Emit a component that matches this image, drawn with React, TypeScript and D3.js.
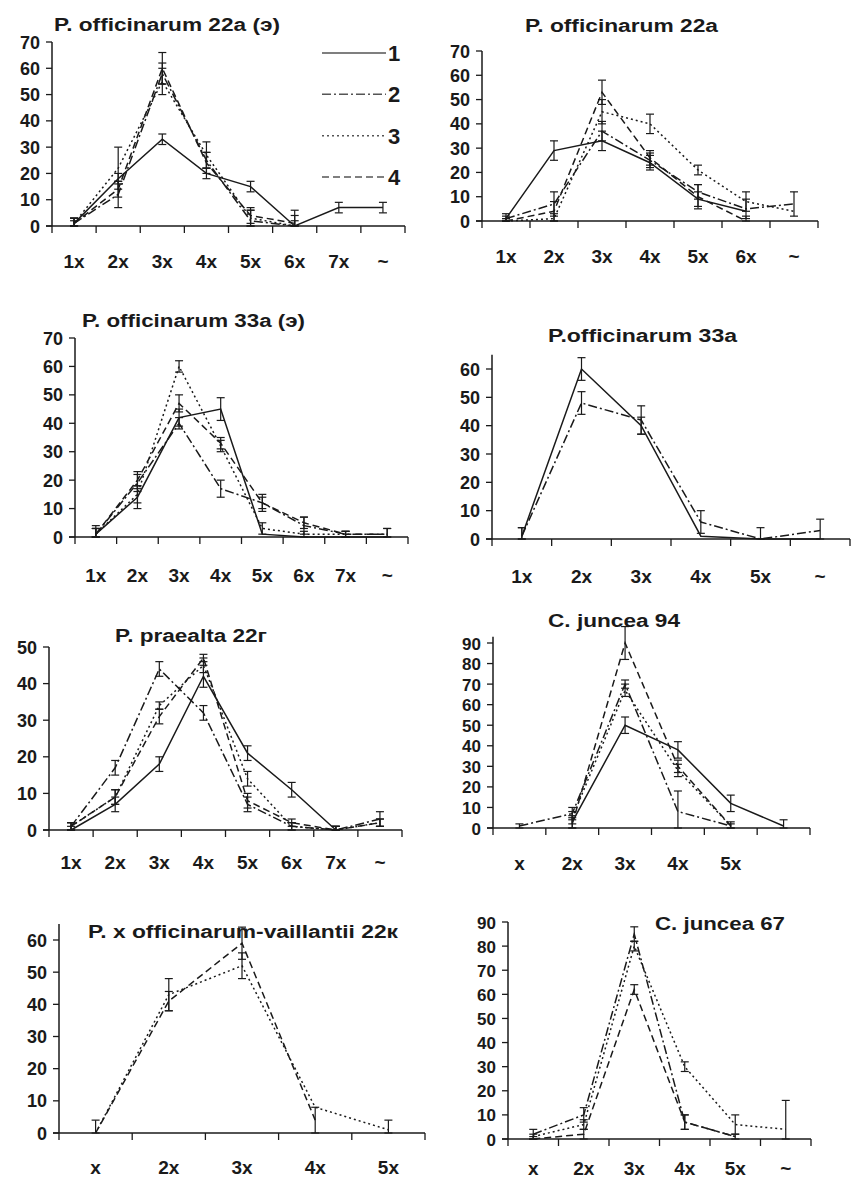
import React from "react";
import * as d3 from "d3";

// category labels of each panel
const cats8 = ["1x", "2x", "3x", "4x", "5x", "6x", "7x", "~"];
const cats7 = ["1x", "2x", "3x", "4x", "5x", "6x", "~"];
const cats33a = ["1x", "2x", "3x", "4x", "5x", "~"];
const catsJ94 = ["x", "2x", "3x", "4x", "5x", ""];
const catsHyb = ["x", "2x", "3x", "4x", "5x"];
const catsJ67 = ["x", "2x", "3x", "4x", "5x", "~"];

const titles = [
  "P. officinarum 22a (э)",
  "P. officinarum 22a",
  "P. officinarum 33a (э)",
  "P.officinarum 33a",
  "P. praealta 22г",
  "C. juncea 94",
  "P. x officinarum-vaillantii 22к",
  "C. juncea 67",
];

const legendLabels = ["1", "2", "3", "4"];

type V = number | null;

// P. officinarum 22a (э)
const p1s1: V[] = [1, 18, 33, 20, 15, 0, 7, 7];
const p1e1: V[] = [2, 2, 2, 2, 2, 0, 2, 2];
const p1s2: V[] = [1, 12, 58, 25, 2, 0, null, null];
const p1e2: V[] = [2, 5, 4, 3, 4, 4, null, null];
const p1s3: V[] = [1, 22, 55, 27, 3, 0, null, null];
const p1e3: V[] = [2, 8, 5, 5, 3, 2, null, null];
const p1s4: V[] = [1, 14, 60, 24, 4, 1, null, null];
const p1e4: V[] = [1, 3, 6, 4, 3, 5, null, 4];

// P. officinarum 22a
const p2s1: V[] = [1, 29, 33, 24, 9, 4, null];
const p2e1: V[] = [2, 4, 4, 3, 3, 0, null];
const p2s2: V[] = [1, 7, 37, 25, 12, 5, 7];
const p2e2: V[] = [1, 5, 4, 3, 3, 4, 5];
const p2s3: V[] = [0, 1, 45, 40, 21, 8, 4];
const p2e3: V[] = [1, 2, 5, 4, 2, 4, 0];
const p2s4: V[] = [0, 4, 53, 26, 10, 0, null];
const p2e4: V[] = [1, 4, 5, 3, 5, 2, null];

// P. officinarum 33a (э)
const p3s1: V[] = [1, 14, 42, 45, 1, 0, 0, 0];
const p3e1: V[] = [3, 4, 3, 4, 0, 0, 0, 0];
const p3s2: V[] = [1, 19, 40, 17, 12, 4, 1, 1];
const p3e2: V[] = [2, 3, 2, 3, 3, 3, 1, 2];
const p3s3: V[] = [1, 15, 60, 32, 3, 1, 1, null];
const p3e3: V[] = [2, 3, 2, 2, 2, 1, 1, null];
const p3s4: V[] = [1, 20, 47, 33, 12, 5, 1, 1];
const p3e4: V[] = [2, 3, 3, 2, 2, 2, 1, 2];

// P.officinarum 33a
const p4s1: V[] = [1, 60, 40, 1, 0, 0];
const p4e1: V[] = [3, 4, 3, 0, 0, 0];
const p4s2: V[] = [1, 48, 42, 6, 0, 3];
const p4e2: V[] = [3, 4, 5, 4, 4, 4];

// P. praealta 22г
const p5s1: V[] = [0, 7, 18, 42, 21, 11, 0, null];
const p5e1: V[] = [1, 2, 2, 3, 2, 2, 1, null];
const p5s2: V[] = [1, 17, 44, 32, 7, 1, 0, 3];
const p5e2: V[] = [1, 2, 2, 2, 2, 1, 1, 2];
const p5s3: V[] = [1, 9, 34, 45, 14, 1, 0, 2];
const p5e3: V[] = [1, 2, 1, 2, 2, 1, 1, 1];
const p5s4: V[] = [1, 9, 31, 47, 8, 2, 0, 2];
const p5e4: V[] = [1, 2, 2, 1, 2, 1, 1, 1];

// C. juncea 94
const p6s1: V[] = [null, 3, 50, 38, 12, 1];
const p6e1: V[] = [null, 3, 4, 4, 4, 3];
const p6s2: V[] = [1, 7, 70, 8, 1, null];
const p6e2: V[] = [1, 3, 2, 10, 0, null];
const p6s3: V[] = [null, 5, 67, 28, 1, null];
const p6e3: V[] = [null, 3, 3, 3, 1, null];
const p6s4: V[] = [null, 2, 90, 30, 1, null];
const p6e4: V[] = [null, 3, 8, 3, 2, null];

// P. x officinarum-vaillantii 22к
const p7s3: V[] = [0, 43, 52, 8, 1];
const p7e3: V[] = [4, 5, 4, 0, 3];
const p7s4: V[] = [0, 41, 59, 4, null];
const p7e4: V[] = [0, 3, 5, 4, null];

// C. juncea 67
const p8s2: V[] = [2, 10, 85, 7, 1, null];
const p8e2: V[] = [2, 3, 3, 3, 0, null];
const p8s3: V[] = [1, 6, 80, 30, 6, 4];
const p8e3: V[] = [1, 2, 2, 2, 4, 12];
const p8s4: V[] = [0, 2, 62, 7, 1, null];
const p8e4: V[] = [1, 2, 2, 3, 1, null];

const DASH: Record<string, string | undefined> = {
  "1": undefined,
  "2": "9,3,2,3",
  "3": "2,3",
  "4": "7,4",
};

type Series = { key: string; v: V[]; e: V[] };

// where each small chart sits on the page
const layout = [
  { x0: 52, x1: 405, y0: 226, yT: 42, tMax: 70, aMax: 70, lY: 268, tx: 54, ty: 31, tw: 226 },
  { x0: 482, x1: 818, y0: 221, yT: 51, tMax: 70, aMax: 70, lY: 263, tx: 525, ty: 32, tw: 193 },
  { x0: 75, x1: 408, y0: 537, yT: 338, tMax: 70, aMax: 70, lY: 582, tx: 82, ty: 327, tw: 223 },
  { x0: 492, x1: 850, y0: 539, yT: 369, tMax: 60, aMax: 65, lY: 583, tx: 548, ty: 342, tw: 189 },
  { x0: 49, x1: 402, y0: 830, yT: 647, tMax: 50, aMax: 50, lY: 869, tx: 115, ty: 642, tw: 152 },
  { x0: 493, x1: 810, y0: 828, yT: 643, tMax: 90, aMax: 93, lY: 870, tx: 548, ty: 627, tw: 132 },
  { x0: 59, x1: 425, y0: 1133, yT: 940, tMax: 60, aMax: 65, lY: 1174, tx: 88, ty: 938, tw: 310 },
  { x0: 508, x1: 811, y0: 1139, yT: 922, tMax: 90, aMax: 90, lY: 1175, tx: 655, ty: 930, tw: 130 },
];

const panels: { cats: string[]; series: Series[] }[] = [
  { cats: cats8, series: [
    { key: "1", v: p1s1, e: p1e1 }, { key: "2", v: p1s2, e: p1e2 },
    { key: "3", v: p1s3, e: p1e3 }, { key: "4", v: p1s4, e: p1e4 }] },
  { cats: cats7, series: [
    { key: "1", v: p2s1, e: p2e1 }, { key: "2", v: p2s2, e: p2e2 },
    { key: "3", v: p2s3, e: p2e3 }, { key: "4", v: p2s4, e: p2e4 }] },
  { cats: cats8, series: [
    { key: "1", v: p3s1, e: p3e1 }, { key: "2", v: p3s2, e: p3e2 },
    { key: "3", v: p3s3, e: p3e3 }, { key: "4", v: p3s4, e: p3e4 }] },
  { cats: cats33a, series: [
    { key: "1", v: p4s1, e: p4e1 }, { key: "2", v: p4s2, e: p4e2 }] },
  { cats: cats8, series: [
    { key: "1", v: p5s1, e: p5e1 }, { key: "2", v: p5s2, e: p5e2 },
    { key: "3", v: p5s3, e: p5e3 }, { key: "4", v: p5s4, e: p5e4 }] },
  { cats: catsJ94, series: [
    { key: "1", v: p6s1, e: p6e1 }, { key: "2", v: p6s2, e: p6e2 },
    { key: "3", v: p6s3, e: p6e3 }, { key: "4", v: p6s4, e: p6e4 }] },
  { cats: catsHyb, series: [
    { key: "3", v: p7s3, e: p7e3 }, { key: "4", v: p7s4, e: p7e4 }] },
  { cats: catsJ67, series: [
    { key: "2", v: p8s2, e: p8e2 }, { key: "3", v: p8s3, e: p8e3 },
    { key: "4", v: p8s4, e: p8e4 }] },
];

const FONT = "'Liberation Sans', Arial, sans-serif";
const INK = "#1a1a1a";

function Panel({ idx }: { idx: number }) {
  const L = layout[idx];
  const P = panels[idx];
  const x = d3.scaleBand().domain(P.cats.map((c, i) => i + "")).range([L.x0, L.x1]);
  const cx = (i: number) => (x(i + "") as number) + x.bandwidth() / 2;
  const y = d3.scaleLinear().domain([0, L.tMax]).range([L.y0, L.yT]);
  const ticks = d3.range(0, L.tMax + 1, 10);
  const bounds = d3.range(P.cats.length + 1).map((i) => L.x0 + i * x.bandwidth());
  const tickFont = L.tMax >= 90 ? 17 : 18;

  const line = d3
    .line<V>()
    .defined((d) => d != null)
    .x((d, i) => cx(i))
    .y((d) => y(d as number));

  return (
    <g>
      <text x={L.tx} y={L.ty} fontSize={18} fontWeight="bold" fontFamily={FONT}
        textLength={L.tw} lengthAdjust="spacingAndGlyphs" fill={INK}>
        {titles[idx]}
      </text>
      {/* axes */}
      <line x1={L.x0} x2={L.x0} y1={L.y0} y2={y(L.aMax)} stroke={INK} strokeWidth={1.5} />
      <line x1={L.x0 - 6} x2={L.x1} y1={L.y0} y2={L.y0} stroke={INK} strokeWidth={1.5} />
      {ticks.map((t) => (
        <g key={t}>
          <line x1={L.x0 - 6} x2={L.x0} y1={y(t)} y2={y(t)} stroke={INK} strokeWidth={1.3} />
          <text x={L.x0 - 12} y={y(t) + 6.5} textAnchor="end" fontSize={tickFont} fontWeight="bold"
            fontFamily={FONT} fill={INK}>{t}</text>
        </g>
      ))}
      {bounds.map((b, i) => (
        <line key={i} x1={b} x2={b} y1={L.y0} y2={L.y0 + 7} stroke={INK} strokeWidth={1.3} />
      ))}
      {P.cats.map((c, i) => (
        <text key={i} x={cx(i)} y={L.lY} textAnchor="middle" fontSize={19} fontWeight="bold"
          fontFamily={FONT} fill={INK}>{c}</text>
      ))}
      {/* series */}
      {P.series.map((s) => (
        <g key={s.key}>
          <path d={line(s.v) || ""} fill="none" stroke={INK} strokeWidth={1.5}
            strokeDasharray={DASH[s.key]} />
          {s.v.map((v, i) => {
            const e = s.e[i];
            if (v == null || !e) return null;
            const lo = y(Math.max(0, v - e));
            const hi = y(v + e);
            const c = cx(i);
            return (
              <g key={i} stroke={INK} strokeWidth={1.2}>
                <line x1={c} x2={c} y1={lo} y2={hi} />
                <line x1={c - 4} x2={c + 4} y1={hi} y2={hi} />
                <line x1={c - 4} x2={c + 4} y1={lo} y2={lo} />
              </g>
            );
          })}
        </g>
      ))}
    </g>
  );
}

function Legend() {
  const ly = d3.scalePoint().domain(legendLabels).range([53, 177]);
  return (
    <g>
      {legendLabels.map((k) => (
        <g key={k}>
          <line x1={322} x2={386} y1={ly(k)} y2={ly(k)} stroke="#555" strokeWidth={1.5}
            strokeDasharray={DASH[k]} />
          <text x={388} y={(ly(k) as number) + 8} fontSize={22} fontWeight="bold"
            fontFamily={FONT} fill={INK}>{k}</text>
        </g>
      ))}
    </g>
  );
}

export default function App() {
  return (
    <svg width={851} height={1182} style={{ position: "absolute", left: 0, top: 0, background: "#fff" }}>
      <rect width={851} height={1182} fill="#fff" />
      {layout.map((_, i) => (
        <Panel key={i} idx={i} />
      ))}
      <Legend />
    </svg>
  );
}
